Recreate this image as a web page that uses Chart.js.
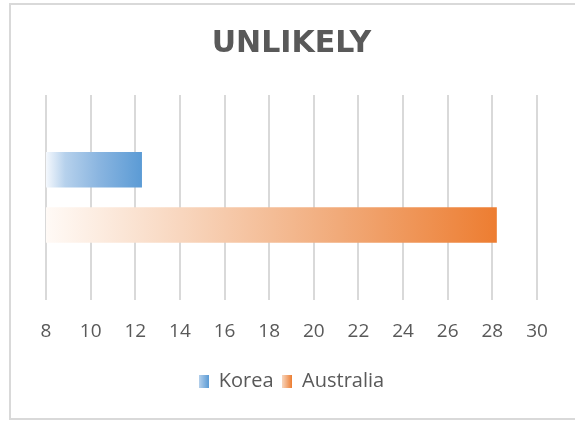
<!DOCTYPE html>
<html>
<head>
<meta charset="utf-8">
<script src="https://cdn.jsdelivr.net/npm/chart.js@4/dist/chart.umd.min.js"></script>
<style>
  body { margin: 0; background: #fff; }
  #wrap { width: 575px; height: 421px; position: relative; }
</style>
</head>
<body>
<div id="wrap"><canvas id="chart" width="575" height="421"></canvas></div>
<script>
// data
var categories = ['UNLIKELY'];
var seriesNames = ['Korea', 'Australia'];
var koreaValues = [12.3];
var australiaValues = [28.2];
var tickValues = [8, 10, 12, 14, 16, 18, 20, 22, 24, 26, 28, 30];

var koreaStops = [[0, '#f4f8fd'], [0.2, '#b6d1ec'], [0.55, '#8ab5e0'], [1, '#5b9bd5']];
var australiaStops = [[0, '#fffaf6'], [0.3, '#f8d6be'], [0.65, '#f1aa79'], [1, '#ed7d31']];

// bar fill goes from pale on the left to full colour at the bar's end
function barGradient(stops) {
    return function (ctx) {
        var chart = ctx.chart;
        if (!chart.chartArea || ctx.dataIndex === undefined) return stops[stops.length - 1][1];
        var x = chart.scales.x;
        var value = chart.data.datasets[ctx.datasetIndex].data[ctx.dataIndex];
        var start = x.getPixelForValue(x.min);
        var end = x.getPixelForValue(value);
        var g = chart.ctx.createLinearGradient(start, 0, end, 0);
        stops.forEach(function (s) { g.addColorStop(s[0], s[1]); });
        return g;
    };
}

// small gradient swatch for the legend
function legendSwatch(stops) {
    var c = document.createElement('canvas');
    c.width = 10;
    c.height = 13;
    var cx = c.getContext('2d');
    var g = cx.createLinearGradient(0, 0, 10, 0);
    g.addColorStop(0, stops[1][1]);
    g.addColorStop(1, stops[stops.length - 1][1]);
    cx.fillStyle = g;
    cx.fillRect(0, 0, 10, 13);
    return c;
}
var swatches = [legendSwatch(koreaStops), legendSwatch(australiaStops)];

var frame = {
    id: 'frame',
    beforeDraw: function (chart) {
        var ctx = chart.ctx;
        ctx.save();
        ctx.strokeStyle = '#d9d9d9';
        ctx.lineWidth = 2;
        ctx.beginPath();
        ctx.moveTo(600, 4);
        ctx.lineTo(10, 4);
        ctx.lineTo(10, 419);
        ctx.lineTo(600, 419);
        ctx.stroke();
        ctx.restore();
    }
};

new Chart(document.getElementById('chart'), {
    type: 'bar',
    data: {
        labels: categories,
        datasets: [
            { label: seriesNames[0], data: koreaValues, backgroundColor: barGradient(koreaStops),
              categoryPercentage: 0.54, barPercentage: 0.64 },
            { label: seriesNames[1], data: australiaValues, backgroundColor: barGradient(australiaStops),
              categoryPercentage: 0.54, barPercentage: 0.64 }
        ]
    },
    options: {
        indexAxis: 'y',
        responsive: false,
        animation: false,
        layout: { padding: { left: 46, right: 38, top: 0, bottom: 20 } },
        scales: {
            x: {
                min: tickValues[0],
                max: tickValues[tickValues.length - 1],
                afterBuildTicks: function (scale) {
                    scale.ticks = tickValues.map(function (v) { return { value: v }; });
                },
                border: { display: false },
                grid: { color: '#d9d9d9', lineWidth: 2, drawTicks: false },
                ticks: { color: '#595959', padding: 20, maxRotation: 0,
                         font: { family: 'Open Sans', size: 19 } }
            },
            y: { display: false }
        },
        plugins: {
            title: {
                display: true,
                text: 'UNLIKELY',
                color: '#595959',
                font: { family: 'DejaVu Sans', size: 30, weight: 'bold' },
                padding: { top: 26, bottom: 33 }
            },
            legend: {
                position: 'bottom',
                labels: {
                    color: '#595959',
                    font: { family: 'Open Sans', size: 20 },
                    usePointStyle: true,
                    boxWidth: 10,
                    padding: 8.5,
                    generateLabels: function (chart) {
                        var items = Chart.defaults.plugins.legend.labels.generateLabels(chart);
                        items.forEach(function (it, i) { it.pointStyle = swatches[i]; });
                        return items;
                    }
                }
            },
            tooltip: { enabled: false }
        }
    },
    plugins: [frame]
});
</script>
</body>
</html>
